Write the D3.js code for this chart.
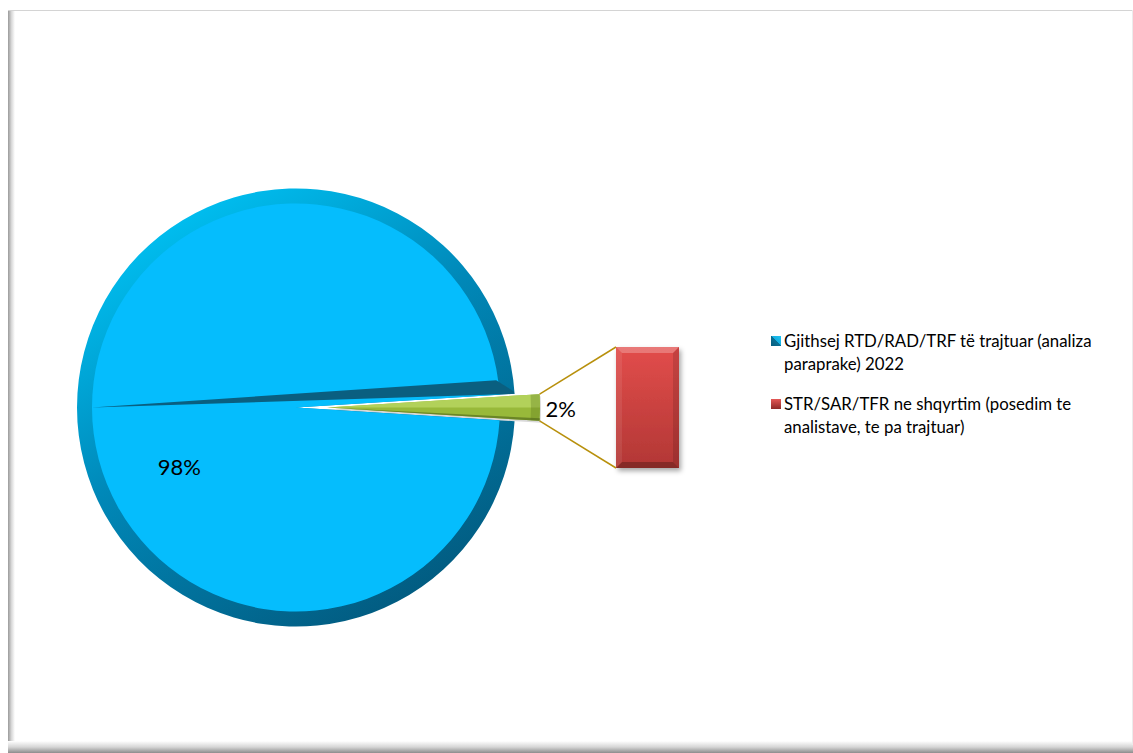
<!DOCTYPE html>
<html>
<head>
<meta charset="utf-8">
<script src="https://cdn.jsdelivr.net/npm/d3@7/dist/d3.min.js"></script>
<style>
  body { margin: 0; background: #fff; }
  text { font-family: Lato, "Noto Sans", sans-serif; fill: #000; }
</style>
</head>
<body>
<svg id="chart"></svg>
<script>
// data
const categories = ["Gjithsej RTD/RAD/TRF të trajtuar (analiza paraprake) 2022",
                    "STR/SAR/TFR ne shqyrtim (posedim te analistave, te pa trajtuar)"];
const pieValues = [98, 2];          // main pie: rest vs the split-off slice
const barValues = [2];              // bar of pie: what the 2% slice is made of
const pieLabels = ["98%", "2%"];
const legendLines = [["Gjithsej RTD/RAD/TRF të trajtuar (analiza", "paraprake) 2022"],
                     ["STR/SAR/TFR ne shqyrtim (posedim te", "analistave, te pa trajtuar)"]];

function makeChart() {
    let svgWidth = 1133;
    let svgHeight = 753;
    let svg = d3.select('#chart')
        .attr('width', svgWidth)
        .attr('height', svgHeight);

    let defs = svg.append('defs');

    let lin = function(id, x1, y1, x2, y2, stops) {
        let g = defs.append('linearGradient').attr('id', id)
            .attr('x1', x1).attr('y1', y1).attr('x2', x2).attr('y2', y2);
        stops.forEach(s => g.append('stop').attr('offset', s[0]).attr('stop-color', s[1]));
    };
    lin('shadowL', 0, 0, 1, 0, [[0, '#9a9a9a'], [0.5, '#d8d8d8'], [1, '#ffffff']]);
    lin('shadowB', 0, 0, 0, 1, [[0, '#ffffff'], [0.5, '#d6d6d6'], [1, '#8c8c8c']]);
    lin('ring', 0.2, 0, 0.8, 1, [[0, '#00c6f8'], [0.45, '#0088b8'], [1, '#02567a']]);
    lin('red', 0, 0, 0, 1, [[0, '#e24d4b'], [1, '#b23735']]);
    lin('legBlue', 0, 1, 1, 0, [[0, '#075d7e'], [0.5, '#0a6f93'], [0.5, '#12aee0'], [1, '#1fc4f4']]);
    lin('legRed', 0, 0, 0, 1, [[0, '#e45856'], [1, '#8e2a28']]);

    let shadow = defs.append('filter').attr('id', 'drop')
        .attr('x', '-20%').attr('y', '-20%').attr('width', '150%').attr('height', '150%');
    shadow.append('feDropShadow').attr('dx', 2).attr('dy', 3).attr('stdDeviation', 2.5)
        .attr('flood-color', '#000').attr('flood-opacity', 0.35);

    // chart frame with the soft shadow on left and bottom
    svg.append('rect').attr('x', 8).attr('y', 10).attr('width', 7).attr('height', 735)
        .attr('fill', 'url(#shadowL)');
    svg.append('rect').attr('x', 8).attr('y', 741).attr('width', 1125).attr('height', 12)
        .attr('fill', 'url(#shadowB)');
    svg.append('line').attr('x1', 8).attr('x2', 1133).attr('y1', 10.5).attr('y2', 10.5)
        .attr('stroke', '#d4d4d4');
    svg.append('line').attr('x1', 1132.5).attr('x2', 1132.5).attr('y1', 10).attr('y2', 745)
        .attr('stroke', '#ececec');

    // pie
    let cx = 296, cy = 407.5, radius = 219, rim = 15;
    let half = Math.PI * 2 * pieValues[1] / d3.sum(pieValues) / 2;
    let pie = d3.pie().sort(null)
        .startAngle(Math.PI / 2 + half)
        .endAngle(Math.PI / 2 + half + Math.PI * 2);
    let arcs = pie(pieValues);

    let outerArc = d3.arc().innerRadius(0).outerRadius(radius);
    let faceArc = d3.arc().innerRadius(0).outerRadius(radius - rim);

    let gPie = svg.append('g').attr('transform', 'translate(' + cx + ',' + cy + ')');
    gPie.append('path').attr('d', outerArc(arcs[0])).attr('fill', 'url(#ring)');
    gPie.append('path').attr('d', faceArc(arcs[0])).attr('fill', '#05bdfd');

    // dark side wall of the big slice, seen through the gap
    let polar = (a, r) => [Math.sin(a) * r, -Math.cos(a) * r];
    let endA = arcs[0].endAngle;
    let wall = [polar(-Math.PI / 2, radius - rim), polar(endA - 0.072, radius - rim - 2),
                polar(endA - 0.012, radius - 1), polar(endA, radius)];
    gPie.append('path').attr('d', d3.line()(wall) + 'Z').attr('fill', '#0a5f80');

    let labelArc = d3.arc().innerRadius(131).outerRadius(131);
    let la = 243 * Math.PI / 180;
    let c98 = labelArc.centroid({startAngle: la, endAngle: la});
    gPie.append('text').attr('x', c98[0]).attr('y', c98[1] + 8)
        .attr('text-anchor', 'middle').style('font-size', '22px').text(pieLabels[0]);

    // bar of pie
    let barX = 616, barW = 63;
    let y = d3.scaleLinear().domain([0, d3.sum(barValues)]).range([468, 347]);
    let stack = d3.cumsum(barValues);
    let gBar = svg.append('g');
    barValues.forEach(function(v, i) {
        let top = y(stack[i]), bot = y(stack[i] - v), h = bot - top, b = 6;
        gBar.append('rect').attr('x', barX).attr('y', top).attr('width', barW).attr('height', h)
            .attr('fill', 'url(#red)').attr('filter', 'url(#drop)');
        let x0 = barX, x1 = barX + barW;
        let bevel = [
            [[[x0, top], [x1, top], [x1 - b, top + b], [x0 + b, top + b]], '#fff', 0.25],
            [[[x0, bot], [x1, bot], [x1 - b, bot - b], [x0 + b, bot - b]], '#000', 0.25],
            [[[x0, top], [x0 + b, top + b], [x0 + b, bot - b], [x0, bot]], '#fff', 0.08],
            [[[x1, top], [x1 - b, top + b], [x1 - b, bot - b], [x1, bot]], '#000', 0.12]
        ];
        bevel.forEach(p => gBar.append('path').attr('d', d3.line()(p[0]) + 'Z')
            .attr('fill', p[1]).attr('opacity', p[2]));
    });

    // exploded green slice
    let explode = 31;
    let gR = radius - 6;
    let p0 = polar(arcs[1].startAngle, gR), p1 = polar(arcs[1].endAngle, gR);
    let midA = (arcs[1].startAngle + arcs[1].endAngle) / 2;
    let greenArc = d3.arc().innerRadius(0).outerRadius(gR);
    let gGreen = svg.append('g')
        .attr('transform', 'translate(' + (cx + explode) + ',' + cy + ')');
    gGreen.append('path').attr('d', greenArc(arcs[1]))
        .attr('transform', 'translate(1,2)').attr('fill', '#000').attr('opacity', 0.15);
    gGreen.append('path').attr('d', greenArc(arcs[1])).attr('fill', '#98b93a');
    // lighter upper half, dark lower rim
    gGreen.append('path')
        .attr('d', d3.line()([[0, 0], p0, polar(midA, gR)]) + 'Z')
        .attr('fill', '#b2d15a');
    gGreen.append('path')
        .attr('d', d3.line()([[0, 0], polar(arcs[1].endAngle - 0.012, gR), p1]) + 'Z')
        .attr('fill', '#6a8526');
    // bevel on the outer end
    let capArc = d3.arc().innerRadius(gR - 9).outerRadius(gR);
    gGreen.append('path').attr('d', capArc(arcs[1])).attr('fill', '#56701a').attr('opacity', 0.3);
    gGreen.append('text').attr('x', p1[0] + 6).attr('y', 9)
        .style('font-size', '22px').text(pieLabels[1]);

    // connector lines from the green slice to the bar
    svg.append('line')
        .attr('x1', cx + explode + p0[0]).attr('y1', cy + p0[1])
        .attr('x2', barX).attr('y2', y(d3.sum(barValues)))
        .attr('stroke', '#b8900c').attr('stroke-width', 1.5);
    svg.append('line')
        .attr('x1', cx + explode + p1[0]).attr('y1', cy + p1[1])
        .attr('x2', barX).attr('y2', y(0))
        .attr('stroke', '#b8900c').attr('stroke-width', 1.5);

    // legend
    let legend = svg.append('g').attr('transform', 'translate(771,336)');
    let fills = ['url(#legBlue)', 'url(#legRed)'];
    categories.forEach(function(c, i) {
        let g = legend.append('g').attr('transform', 'translate(0,' + (i * 63) + ')');
        g.append('rect').attr('width', 10).attr('height', 10).attr('fill', fills[i]);
        let t = g.append('text').attr('x', 13).attr('y', 11).style('font-size', '16.8px');
        legendLines[i].forEach((line, j) => t.append('tspan')
            .attr('x', 13).attr('dy', j === 0 ? 0 : 23).text(line));
    });
}

makeChart();
</script>
</body>
</html>
